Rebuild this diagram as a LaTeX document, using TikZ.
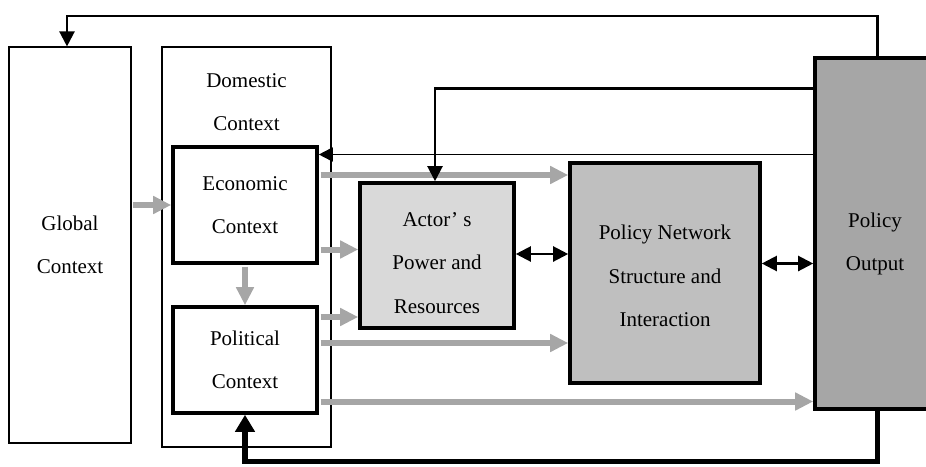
\documentclass[tikz,border=0pt]{standalone}
\usepackage{fontspec}
\setmainfont{Liberation Serif}
\usetikzlibrary{arrows.meta}
\definecolor{garrow}{HTML}{A6A6A6}
\definecolor{fillA}{HTML}{D9D9D9}
\definecolor{fillB}{HTML}{BFBFBF}
\definecolor{fillC}{HTML}{A6A6A6}
\begin{document}
\begin{tikzpicture}[x=1pt,y=-1pt,
  txt/.style={inner sep=0pt, align=center, font=\fontsize{21}{43.5}\selectfont},
  thinbox/.style={txt, draw, line width=1.1pt},
  boldbox/.style={txt, draw, line width=3.6pt},
  garr/.style={draw=garrow, line width=6pt, shorten <=1.8pt, -{Triangle[length=18pt,width=17pt]}},
  barr/.style={line width=2.2pt, -{Triangle[length=15pt,width=15pt]}},
  darr/.style={line width=2.2pt, {Triangle[length=15pt,width=15pt]}-{Triangle[length=15pt,width=15pt]}},
  fbarr/.style={line width=5.5pt, -{Triangle[length=17pt,width=19pt]}}]
\useasboundingbox (0,0) rectangle (926,466);

% boxes
\node[thinbox, minimum width=122, minimum height=396] (glob) at (70,245) {Global\\Context};
\node[thinbox, minimum width=169, minimum height=400] (dom) at (246.5,247) {};
\node[txt, anchor=north] (domtext) at (246.5,73) {Domestic\\Context};
\node[boldbox, fill=white, minimum width=144, minimum height=116] (eco) at (245,205) {Economic\\Context};
\node[boldbox, fill=white, minimum width=144, minimum height=106] (pol) at (245,360) {Political\\Context};
\node[boldbox, fill=fillA, minimum width=154, minimum height=145] (act) at (437,255.5) {};
\node[txt] (acttext) at (437,263) {Actor’ s\\Power and\\Resources};
\node[boldbox, fill=fillB, minimum width=190, minimum height=220] (net) at (665,273) {};
\node[txt] (nettext) at (665,276) {Policy Network\\Structure and\\Interaction};
\node[boldbox, fill=fillC, minimum width=125, minimum height=351] (out) at (877.5,233.5) {};
\node[txt] (outtext) at (875,244) {Policy\\Output};

% gray influence arrows
\draw[garr] (glob.east |- eco.west) -- (eco.west);
\draw[garr] (eco.south) -- (pol.north);
\coordinate (g1) at (0,175);
\draw[garr] (eco.east |- g1) -- (net.west |- g1);
\coordinate (g2) at (0,249.5);
\draw[garr] (eco.east |- g2) -- (act.west |- g2);
\coordinate (g3) at (0,317);
\draw[garr] (pol.east |- g3) -- (act.west |- g3);
\coordinate (g4) at (0,343);
\draw[garr] (pol.east |- g4) -- (net.west |- g4);
\coordinate (g5) at (0,401.5);
\draw[garr] (pol.east |- g5) -- (out.west |- g5);

% feedback connectors
\coordinate (tl) at (67,16);
\draw[barr] (out.north) |- (tl) -- (tl |- glob.north);
\coordinate (c2) at (435,88.5);
\draw[barr] ([xshift=3pt]out.west |- c2) -- (c2) -- (c2 |- act.north);
\coordinate (c3) at (0,154.5);
\draw[line width=1.8pt, -{Triangle[length=14pt,width=14pt]}] (out.west |- c3) -- (eco.east |- c3);
\coordinate (c4) at (0,461.5);
\draw[fbarr] (out.south) |- (pol.south |- c4) -- (pol.south);

% interaction arrows
\coordinate (d1) at (0,254);
\draw[darr] (act.east |- d1) -- (net.west |- d1);
\coordinate (d2) at (0,263.5);
\draw[darr] (net.east |- d2) -- (out.west |- d2);
\end{tikzpicture}
\end{document}
